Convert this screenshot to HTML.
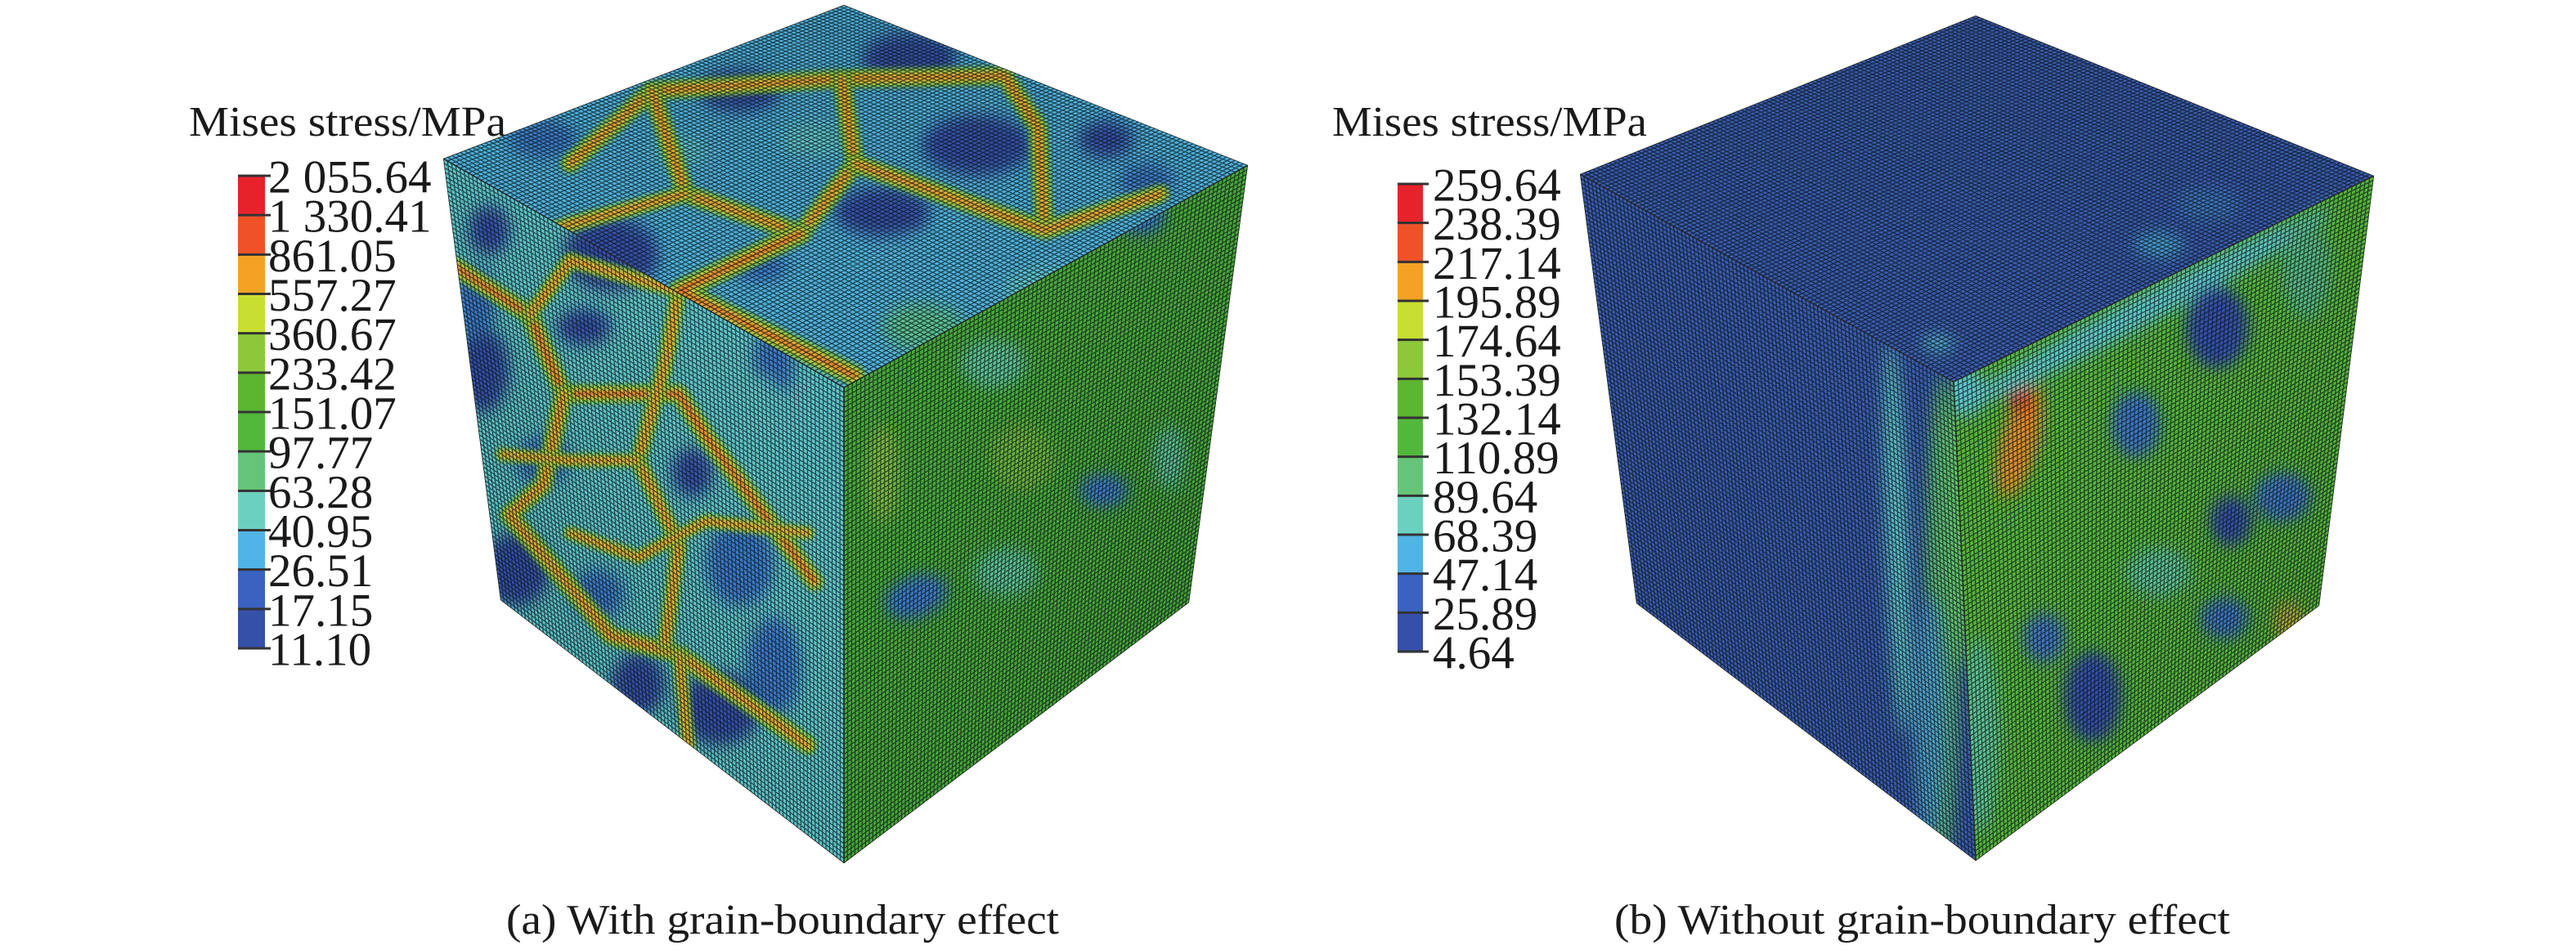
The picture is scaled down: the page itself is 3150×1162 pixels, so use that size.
<!DOCTYPE html>
<html><head><meta charset="utf-8"><style>
html,body{margin:0;padding:0;background:#fff;}
svg{display:block;}
text{font-family:"Liberation Serif",serif;fill:#1a1a1a;}
</style></head><body>
<svg id="fig" width="3150" height="1162" viewBox="0 0 3150 1162">
<defs>
<filter id="blur" x="-10%" y="-10%" width="120%" height="120%"><feGaussianBlur stdDeviation="9"/></filter>
<filter id="blur2" x="-10%" y="-10%" width="120%" height="120%"><feGaussianBlur stdDeviation="3"/></filter>
</defs>
<g id="cubeA"></g>
<g id="cubeB"></g>
<g id="legA"></g>
<g id="legB"></g>
<text x="619" y="1142" font-size="52" textLength="676" lengthAdjust="spacingAndGlyphs">(a) With grain-boundary effect</text>
<text x="1974" y="1142" font-size="52" textLength="753" lengthAdjust="spacingAndGlyphs">(b) Without grain-boundary effect</text>
</svg>
<script>
const legendALabels = ["2 055.64","1 330.41","861.05","557.27","360.67","233.42","151.07","97.77","63.28","40.95","26.51","17.15","11.10"];
const legendBLabels = ["259.64","238.39","217.14","195.89","174.64","153.39","132.14","110.89","89.64","68.39","47.14","25.89","4.64"];
const bandColors = ["#e8222a","#f05228","#f4a224","#c8de30","#8cc83a","#5cb630","#52b83c","#66c47a","#6cd0c0","#50b4e6","#3a62c0","#3550a8"];

const NS="http://www.w3.org/2000/svg";
function mk(tag,attrs,parent){const e=document.createElementNS(NS,tag);for(const k in attrs)e.setAttribute(k,attrs[k]);parent.appendChild(e);return e;}
function pts(a){return a.map(p=>p[0]+","+p[1]).join(" ");}
let cid=0;
function face(parent,quad,base,blobs,lines,name){
  const id="clip"+(cid++);
  const cp=mk("clipPath",{id:id},document.querySelector("defs"));
  mk("polygon",{points:pts(quad)},cp);
  const g=mk("g",{"clip-path":"url(#"+id+")"},parent);
  
  
  mk("polygon",{points:pts(quad),fill:base},g);
  const bg=mk("g",{filter:"url(#blur)"},g);
  blobs.forEach(b=>mk("ellipse",{cx:b[0],cy:b[1],rx:b[2],ry:b[3],fill:b[4],transform:"rotate("+(b[5]||0)+" "+b[0]+" "+b[1]+")"},bg));
  const lg=mk("g",{filter:"url(#blur2)",fill:"none","stroke-linejoin":"round","stroke-linecap":"round"},g);
  lines.forEach(l=>{
    mk("polyline",{points:pts(l.p),stroke:"#7cc43c","stroke-width":l.w*3},lg);
    mk("polyline",{points:pts(l.p),stroke:"#d8d83a","stroke-width":l.w*1.6},lg);
    mk("polyline",{points:pts(l.p),stroke:l.c||"#ec8a2a","stroke-width":l.w*0.8},lg);
  });
  const N=96;
  const bil=(s,t)=>{const [a,b,c,d]=quad;return [
    (1-s)*(1-t)*a[0]+s*(1-t)*b[0]+s*t*c[0]+(1-s)*t*d[0],
    (1-s)*(1-t)*a[1]+s*(1-t)*b[1]+s*t*c[1]+(1-s)*t*d[1]];};
  let dstr="";
  for(let i=0;i<=N;i++){const t=i/N;
    const p1=bil(t,0),p2=bil(t,1),p3=bil(0,t),p4=bil(1,t);
    dstr+="M"+p1[0].toFixed(1)+" "+p1[1].toFixed(1)+"L"+p2[0].toFixed(1)+" "+p2[1].toFixed(1);
    dstr+="M"+p3[0].toFixed(1)+" "+p3[1].toFixed(1)+"L"+p4[0].toFixed(1)+" "+p4[1].toFixed(1);}
  mk("path",{d:dstr,stroke:"#0a1418","stroke-width":1.3,"stroke-opacity":0.7,fill:"none"},g);
  mk("polygon",{points:pts(quad),fill:"none",stroke:"#222","stroke-width":1.5},g);
}
const z=(x,y)=>[200+x*0.829,y*0.741];
const B="#3550a8",LB="#3a78c8",C="#5ec4c8",CY="#4fb2dc",G="#4cae3a",GC="#5cc090";
// Cube A
const cA=document.getElementById("cubeA");
const A1=[542,194],B1=[1032,6],C1=[1526,202],D1=[1032,474],E1=[612,734],F1=[1032,1056],G1=[1454,737];
const blueA=(list)=>list.map(b=>{const p=z(b[0],b[1]);return [p[0],p[1],b[2]*0.83,b[3]*0.74,b[4]||B,b[5]||0];});
face(cA,[A1,B1,C1,D1],CY,blueA([[1100,95,70,40],[850,150,60,35],[1200,240,80,50],[1060,350,70,40],[660,420,70,60],[1390,230,40,30],[880,440,40,25,LB],[560,230,50,30,LB],[1450,300,40,30,LB],[760,250,40,25,C],[960,230,50,30,C],[1480,420,60,40,GC],[1300,480,60,40,C],[1120,540,60,40,GC]]),
 [{p:[z(600,270),z(720,150),z(1000,130),z(1240,125),z(1290,210),z(1300,380)],w:8},
  {p:[z(720,150),z(770,320),z(940,385),z(1020,270),z(1000,130)],w:8},
  {p:[z(1020,270),z(1300,380),z(1470,320)],w:8},
  {p:[z(940,385),z(760,480),z(1020,620)],w:9,c:"#ee6a28"},
  {p:[z(770,320),z(600,370),z(430,440)],w:7}],"top-face-a");
face(cA,[A1,D1,F1,E1],C,blueA([[660,420,70,60],[620,540,40,30],[480,380,30,40],[470,610,40,70],[520,940,50,60],[820,1170,60,60],[700,1130,40,50],[850,930,50,70,LB],[780,780,30,40],[900,600,30,60,LB],[560,760,40,40,LB],[460,500,30,60,LB],[640,980,40,40,LB],[900,1100,40,80,LB],[880,700,40,80,C]]),
 [{p:[z(430,440),z(540,520),z(590,650),z(760,650),z(800,720),z(960,960)],w:8,c:"#ec5a28"},
  {p:[z(590,650),z(560,800),z(510,850),z(660,1050),z(760,1080),z(950,1230)],w:8},
  {p:[z(760,480),z(740,600),z(700,760),z(760,900),z(740,1060)],w:7},
  {p:[z(500,750),z(600,760),z(700,760)],w:6},
  {p:[z(600,880),z(700,920),z(800,860),z(950,880)],w:6},
  {p:[z(760,1080),z(780,1300),z(800,1400)],w:6},
  {p:[z(540,520),z(600,430),z(760,480)],w:7}],"left-face-a");
face(cA,[D1,C1,G1,F1],"#48a838",[[1395,265,30,22,LB],[1300,270,25,18,GC],[1160,340,30,40,GC],[1120,730,40,25,LB,-20],[1350,600,30,20,LB],[1215,445,40,30,GC],[1230,700,40,30,GC],[1430,560,20,40,GC],[1080,580,20,60,"#7ab840"],[1250,560,40,40,"#6ab23a"]],[],"right-face-a");
// Cube B
const cB=document.getElementById("cubeB");
const A2=[1932,213],B2=[2416,19],C2=[2903,215],D2=[2389,467],E2=[2001,738],F2=[2416,1053],G2=[2836,741];
face(cB,[A2,B2,C2,D2],"#3a5cb0",[[2840,280,50,25,"#4fa8c8",-30],[2640,300,30,15,"#46a0d0"],[2370,420,20,10,"#56b8d0"],[2700,250,40,20,"#3e74c0"]],
 [],"top-face-b");
face(cB,[A2,D2,F2,E2],"#3a5cb0",[[2320,660,14,240,"#5ec4c8",-2],[2375,760,22,300,"#5cb870"],[2360,880,20,150,"#4fa0c8"],[2400,620,12,200,"#66c860"]],[],"left-face-b");
face(cB,[D2,C2,G2,F2],"#56b43a",[[2400,480,30,30,"#5ec4c8"],[2620,380,260,18,"#5ec4c8",-28],[2470,540,22,70,"#e08a2c",15],[2470,490,14,14,"#d83028"],[2711,400,38,50,B],[2612,519,30,40,"#3e74c0"],[2728,637,25,30,B],[2559,852,35,55,B],[2720,756,30,25,"#3e74c0"],[2791,608,35,30,"#3e74c0"],[2640,700,40,30,GC],[2820,330,30,60,"#58b880"],[2420,900,25,120,GC],[2500,780,25,30,"#3e74c0"],[2800,760,20,25,"#b0a83a"]],
 [],"right-face-b");
// Legends
function legend(gid,x0,x1,top,bottom,labels,lx,fs){
  const g=document.getElementById(gid);
  const n=bandColors.length, h=(bottom-top)/n;
  bandColors.forEach((c,i)=>{
    const r=mk("rect",{x:x0,y:top+i*h,width:x1-x0,height:h+0.5,fill:c},g);
    
    
  });
  labels.forEach((t,i)=>{
    const y=top+i*h;
    mk("line",{x1:x0,x2:x1+7,y1:y,y2:y,stroke:"#333","stroke-width":3},g);
    const tx=mk("text",{x:lx,y:y+fs*0.36,"font-size":fs},g);
    tx.textContent=t;
    
    
  });
}
legend("legA",291,324,215,793,legendALabels,328,57);
legend("legB",1709,1740,225,797,legendBLabels,1752,57);
const tA=mk("text",{x:231,y:166,"font-size":52,textLength:388,lengthAdjust:"spacingAndGlyphs"},document.getElementById("legA"));
tA.textContent="Mises stress/MPa";


const tB=mk("text",{x:1629,y:166,"font-size":52,textLength:385,lengthAdjust:"spacingAndGlyphs"},document.getElementById("legB"));
tB.textContent="Mises stress/MPa";


</script>
</body></html>
